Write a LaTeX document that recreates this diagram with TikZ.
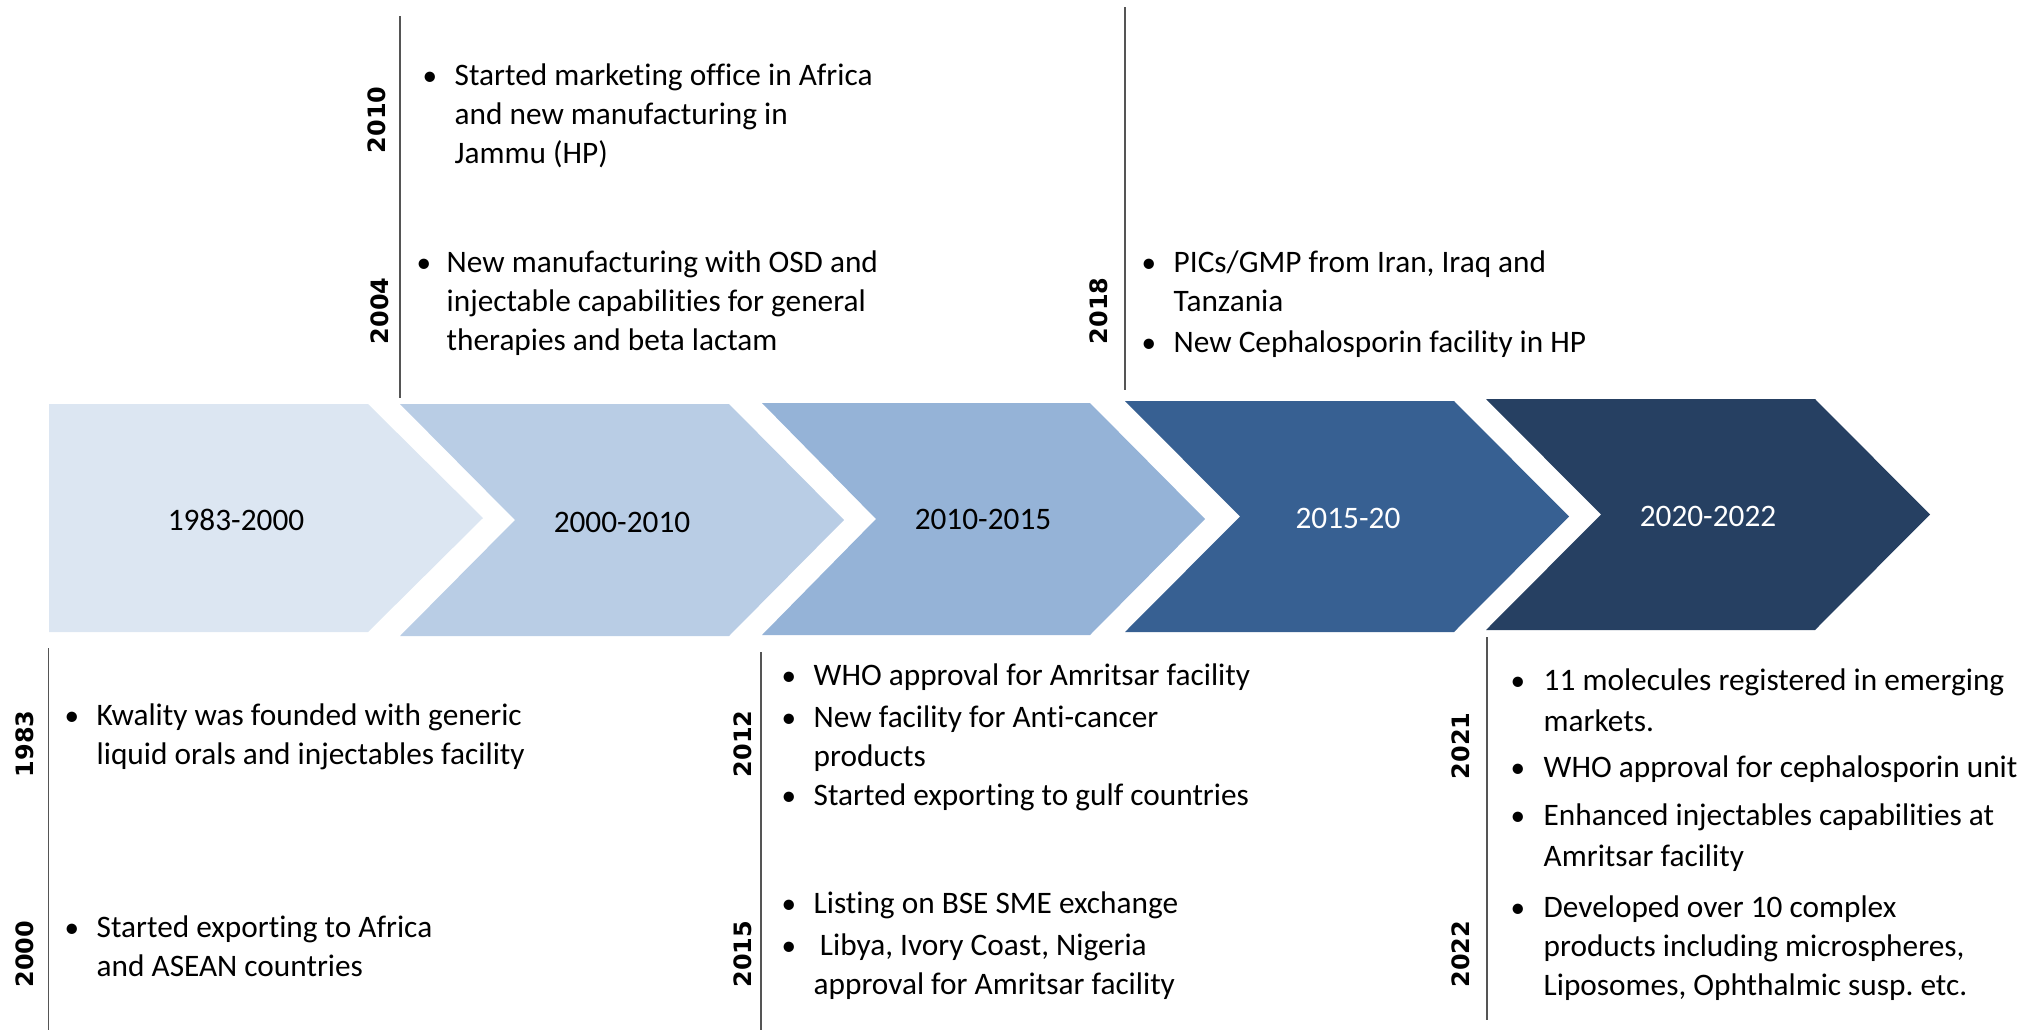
\documentclass[tikz,border=0pt]{standalone}
\usepackage{fontspec}
\setmainfont{Carlito}[Ligatures=NoCommon]
\newfontfamily\yearfont{DejaVu Sans}
\frenchspacing
\definecolor{chevA}{HTML}{DCE6F2}
\definecolor{chevB}{HTML}{B9CDE5}
\definecolor{chevC}{HTML}{95B3D7}
\definecolor{chevD}{HTML}{376092}
\definecolor{chevE}{HTML}{264062}
\definecolor{rule}{HTML}{555555}
\newcommand{\lines}[1]{\begin{tabular}[t]{@{}l@{}}#1\end{tabular}}
\tikzstyle{yr}=[rotate=90, inner sep=0pt, font=\yearfont\bfseries\fontsize{6.8}{8}\selectfont]
\tikzstyle{bul}=[anchor=base west, inner sep=0pt, font=\fontsize{8.3}{11.1}\selectfont]
\tikzstyle{entry}=[anchor=base west, inner sep=0pt, font=\fontsize{8.9}{11.1}\selectfont]
\tikzstyle{period}=[font=\fontsize{8.9}{11.1}\selectfont]
\tikzstyle{tick}=[draw=rule, line width=0.45pt]

\begin{document}
\begin{tikzpicture}[x=0.01cm, y=-0.01cm]
            \useasboundingbox (0,0) rectangle (2044,1030);
            %Chevrons of the timeline
            \foreach \xl/\xc/\yt/\yb/\dep/\col in {49/368/404/632/0/chevA, 400/729/404/636/115/chevB, 762/1090/403/635/114/chevC, 1125/1454/401/632/115/chevD, 1486/1815/399/630/115/chevE}{
                \fill[\col] (\xl,\yt) -- (\xc,\yt) -- ({\xc+115},{(\yt+\yb)/2}) -- (\xc,\yb) -- (\xl,\yb) -- ({\xl+\dep},{(\yt+\yb)/2}) -- cycle;
            }
            \node[period](p1) at (236,520){1983-2000};
            \node[period](p2) at (622,522){2000-2010};
            \node[period](p3) at (983,519){2010-2015};
            \node[period, white](p4) at (1348,518){2015-20};
            \node[period, white](p5) at (1708,516){2020-2022};

            %Rules above the chevrons
            \coordinate (u1top) at (400,16);
            \coordinate (u1bot) at (400,398);
            \coordinate (u2top) at (1125,7);
            \coordinate (u2bot) at (1125,390);
            \draw[tick] (u1top) -- (u1bot);
            \draw[tick] (u2top) -- (u2bot);

            %Rules below the chevrons
            \coordinate (d1top) at (48.5,648);
            \coordinate (d1bot) at (48.5,1030);
            \coordinate (d2top) at (761,652);
            \coordinate (d2bot) at (761,1030);
            \coordinate (d3top) at (1487,637);
            \coordinate (d3bot) at (1487,1020);
            \draw[tick] (d1top) -- (d1bot);
            \draw[tick] (d2top) -- (d2bot);
            \draw[tick] (d3top) -- (d3bot);

            %Years
            \node[yr](y2010) at (377,120){2010};
            \node[yr](y2004) at (380,311){2004};
            \node[yr](y2018) at (1099,311){2018};
            \node[yr](y1983) at (25,744){1983};
            \node[yr](y2000) at (25,954){2000};
            \node[yr](y2012) at (743,744){2012};
            \node[yr](y2015) at (743,954){2015};
            \node[yr](y2021) at (1461,746){2021};
            \node[yr](y2022) at (1461,954){2022};

            %Bullets
            \foreach \bx/\by in {422/85, 416/272, 1141/272, 1141/352, 64/725, 64/937, 781/685, 781/727, 781/805, 781/913, 781/955, 1510/690, 1510/777, 1510/825, 1510/917}{
                \node[bul] at (\bx,\by){\textbullet};
            }

            %Events above
            \node[entry](e2010) at (454,85){\lines{Started marketing office in Africa\\and new manufacturing in\\Jammu (HP)}};
            \node[entry](e2004) at (446,272){\lines{New manufacturing with OSD and\\injectable capabilities for general\\therapies and beta lactam}};
            \node[entry](e2018a) at (1173,272){\lines{PICs/GMP from Iran, Iraq and\\Tanzania}};
            \node[entry](e2018b) at (1173,352){New Cephalosporin facility in HP};

            %Events below
            \node[entry](e1983) at (96,725){\lines{Kwality was founded with generic\\liquid orals and injectables facility}};
            \node[entry](e2000) at (96,937){\lines{Started exporting to Africa\\and ASEAN countries}};
            \node[entry](e2012a) at (813,685){WHO approval for Amritsar facility};
            \node[entry](e2012b) at (813,727){\lines{New facility for Anti-cancer\\products}};
            \node[entry](e2012c) at (813,805){Started exporting to gulf countries};
            \node[entry](e2015a) at (813,913){Listing on BSE SME exchange};
            \node[entry](e2015b) at (813,955){\lines{\hspace{0.2em}Libya, Ivory Coast, Nigeria\\approval for Amritsar facility}};
            \node[entry](e2021a) at (1543,690){\lines{11 molecules registered in emerging\\[0.8pt]markets.}};
            \node[entry](e2021b) at (1543,777){WHO approval for cephalosporin unit};
            \node[entry](e2021c) at (1543,825){\lines{Enhanced injectables capabilities at\\[0.8pt]Amritsar facility}};
            \node[entry](e2022) at (1543,917){\lines{Developed over 10 complex\\products including microspheres,\\Liposomes, Ophthalmic susp. etc.}};
\end{tikzpicture}
\end{document}
